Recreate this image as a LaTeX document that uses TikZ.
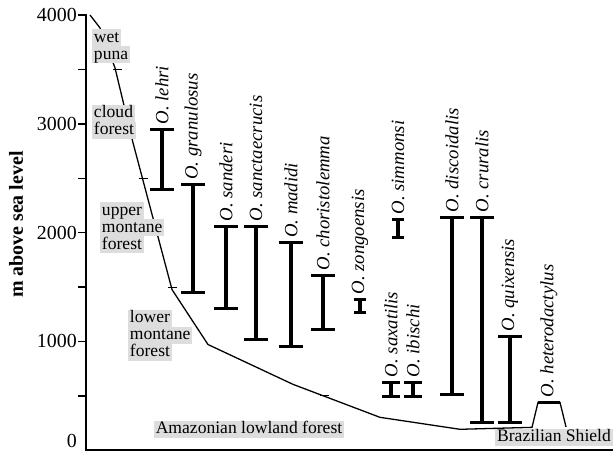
\documentclass[tikz,border=0pt]{standalone}
\usepackage{fontspec}
\setmainfont{Liberation Serif}
\definecolor{zonegray}{RGB}{221,221,221}
\setlength{\fboxsep}{0pt}
\newcommand{\zoneline}[1]{\colorbox{zonegray}{\rule[-3.5pt]{0pt}{14.5pt}\hspace{1.5pt}#1\hspace{1.5pt}}}

\begin{document}
\begin{tikzpicture}[x=0.03cm,y=0.00327cm,
  zone/.style={font=\fontsize{15}{14.5}\selectfont, align=left, inner sep=0pt},
  species/.style={font=\fontsize{16}{16}\selectfont\itshape, rotate=90, anchor=west, inner sep=0pt},
  ticklabel/.style={font=\fontsize{17}{17}\selectfont, anchor=east, inner sep=0pt},
  rangebar/.style={line width=2.6pt},
  ground/.style={line width=1.1pt}]
  \useasboundingbox (-86,-27.5) rectangle (530,4137.6);
  % axes
  \draw[line width=1.8pt] (0,4010) -- (0,0) -- (527,0);
  \foreach \e in {1000,2000,3000,4000} {
    \draw[line width=1.2pt] (-8,\e) -- (0,\e);
    \node[ticklabel] (tick\e) at (-9,\e) {\e};
  }
  \foreach \e in {500,1500,2500,3500}
    \draw[line width=1.2pt] (-8,\e) -- (0,\e);
  \node[ticklabel] (tick0) at (-9,85) {0};
  \node[font=\fontsize{17}{17}\selectfont\bfseries, rotate=90, inner sep=0pt] (ytitle) at (-70,2073) {m above sea level};
  % terrain profile
  \draw[ground] (4,4000) -- (14,3881) -- (29,3514) -- (47,2826) -- (86,1477) -- (122,972)
    -- (207,606) -- (294,303) -- (374,193) -- (446,211) -- (452,440) -- (474,440) -- (480,215);
  \foreach \x/\e in {27/3500,53/2500,82/1500,234/500}
    \draw[line width=0.8pt] (\x,\e) -- (\x+9,\e);
  \draw[line width=3pt] (452,440) -- (474,440);
  % vegetation zones
  \node[zone, anchor=west] (wetpuna) at (6,3711) {\zoneline{wet}\\\zoneline{puna}};
  \node[zone, anchor=west] (cloud) at (6,3018) {\zoneline{cloud}\\\zoneline{forest}};
  \node[zone, anchor=west] (upper) at (14,2046) {\zoneline{upper}\\\zoneline{montane}\\\zoneline{forest}};
  \node[zone, anchor=west] (lower) at (42,1055) {\zoneline{lower}\\\zoneline{montane}\\\zoneline{forest}};
  \node[zone] (lowland) at (163,193) {\zoneline{Amazonian lowland forest}};
  \node[zone] (shield) at (468,119) {\zoneline{Brazilian Shield}};
  % altitudinal ranges
  \foreach \x/\lo/\hi/\w/\spname in {76/2400/2950/12/lehri, 107/1450/2440/12/granulosus,
      140/1300/2055/12/sanderi, 170/1020/2055/12/sanctaecrucis, 205/955/1905/12/madidi,
      237/1110/1605/12/choristolemma, 274/1265/1385/6/zongoensis, 312/1955/2120/6/simmonsi,
      305/495/625/9/saxatilis, 327/495/625/9/ibischi, 366/515/2140/12/discoidalis,
      396/255/2140/12/cruralis, 424/255/1045/12/quixensis} {
    \draw[rangebar] (\x,\lo) -- (\x,\hi);
    \draw[rangebar] (\x-\w,\lo) -- (\x+\w,\lo) (\x-\w,\hi) -- (\x+\w,\hi);
    \node[species] (\spname) at (\x,\hi+45) {O. \spname};
  }
  \node[species] (heterodactylus) at (463,486) {O. heterodactylus};
\end{tikzpicture}
\end{document}
